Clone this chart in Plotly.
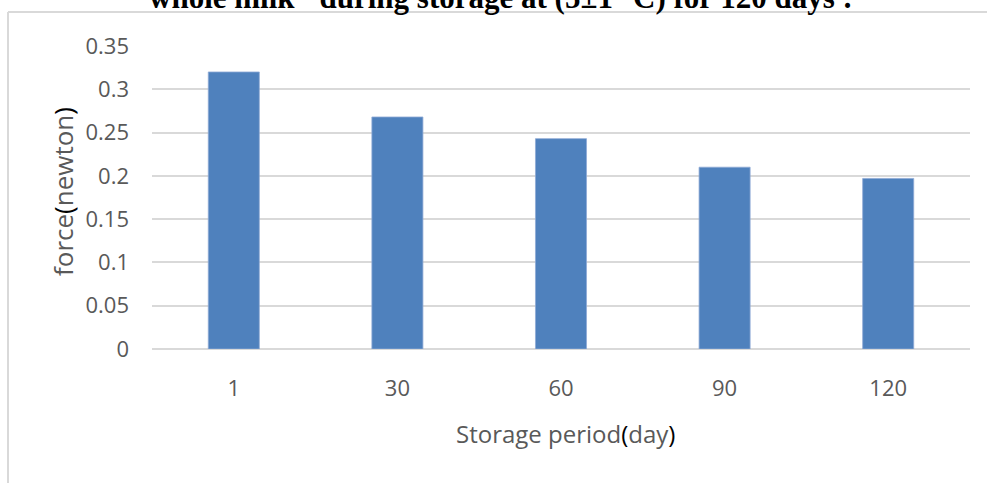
import plotly.graph_objects as go

# Storage period (days) and measured force (newton)
storage_days = ["1", "30", "60", "90", "120"]
force_newton = [0.32, 0.268, 0.243, 0.21, 0.197]
y_ticks = [0, 0.05, 0.1, 0.15, 0.2, 0.25, 0.3, 0.35]

W, H = 987, 485
L, R, T, B = 152, 17, 46, 136
plot_w = W - L - R
plot_h = H - T - B


def px_x(x):
    return (x - L) / plot_w


def px_y(y):
    return (H - B - y) / plot_h


gray = "#595959"
grid = "#d9d9d9"

fig = go.Figure(
    go.Bar(
        x=storage_days,
        y=force_newton,
        marker=dict(color="#4f81bd", line=dict(color="#8eaad6", width=0.8)),
        hoverinfo="x+y",
    )
)

fig.update_layout(
    width=W,
    height=H,
    margin=dict(l=L, r=R, t=T, b=B, pad=0),
    paper_bgcolor="white",
    plot_bgcolor="white",
    bargap=0.688,
    showlegend=False,
    font=dict(family="Open Sans", color=gray),
)

fig.update_xaxes(
    type="category",
    showgrid=False,
    showline=False,
    zeroline=False,
    ticks="",
    tickfont=dict(size=22, color=gray),
    ticklabelstandoff=24,
)

fig.update_yaxes(
    range=[0, 0.35],
    tickvals=y_ticks,
    ticktext=[f"{v:g}" for v in y_ticks],
    showgrid=True,
    gridcolor=grid,
    gridwidth=1.6,
    zeroline=True,
    zerolinecolor=grid,
    zerolinewidth=1.6,
    showline=False,
    ticks="",
    tickfont=dict(size=22, color=gray),
    ticklabelstandoff=22,
)

black = "#000000"
fig.add_annotation(
    text=f"Storage period<span style='color:{black}'>(</span>day<span style='color:{black}'>)</span>",
    xref="paper", yref="paper",
    x=px_x(565), y=px_y(433),
    xanchor="center", yanchor="middle",
    showarrow=False,
    font=dict(family="Open Sans", size=24, color=gray),
)

fig.add_annotation(
    text=f"force<span style='color:{black}'>(</span>newton<span style='color:{black}'>)</span>",
    xref="paper", yref="paper",
    x=px_x(63), y=px_y(192),
    xanchor="center", yanchor="middle",
    textangle=-90,
    showarrow=False,
    font=dict(family="Open Sans", size=26, color=gray),
)

# Heading, running off the top edge of the page
fig.add_annotation(
    text='whole milk" during storage at (5±1 °C) for 120 days :',
    xref="paper", yref="paper",
    x=px_x(501), y=px_y(17),
    xanchor="center", yanchor="bottom",
    showarrow=False,
    font=dict(family="Liberation Serif", size=31, color="black", weight="bold"),
)

# Chart-area frame (left and top edges)
frame = dict(color="#d9d9d9", width=2)
fig.add_shape(type="line", xref="paper", yref="paper",
              x0=px_x(8), x1=px_x(8), y0=px_y(12), y1=px_y(483), line=frame)
fig.add_shape(type="line", xref="paper", yref="paper",
              x0=px_x(8), x1=px_x(990), y0=px_y(12), y1=px_y(12), line=frame)

fig.write_html("out.html")
